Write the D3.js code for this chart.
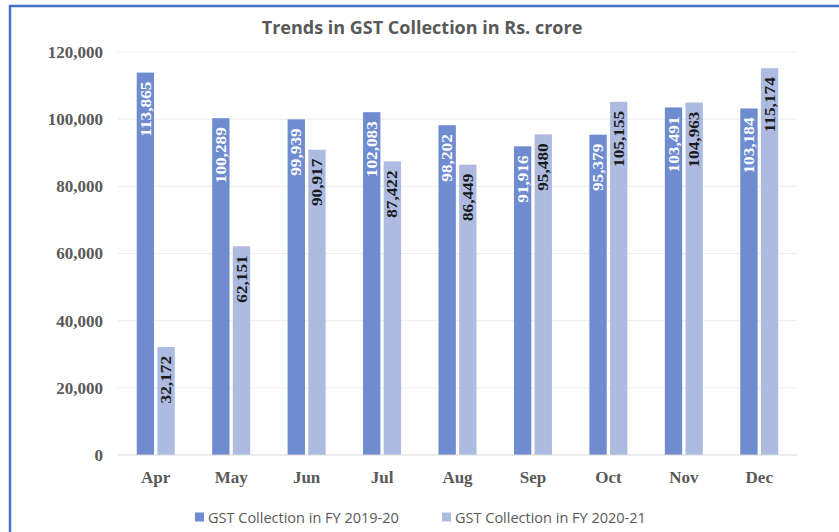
<!DOCTYPE html>
<html>
<head>
<meta charset="utf-8">
<script src="https://cdn.jsdelivr.net/npm/d3@7"></script>
<style>
  html, body { margin: 0; padding: 0; background: #fff; }
  svg { display: block; }
</style>
</head>
<body>
<svg id="chart" width="839" height="532"></svg>
<script>
// GST collection by month, Rs. crore
const months = ["Apr", "May", "Jun", "Jul", "Aug", "Sep", "Oct", "Nov", "Dec"];
const seriesNames = ["GST Collection in FY 2019-20", "GST Collection in FY 2020-21"];
const fy2019_20 = [113865, 100289, 99939, 102083, 98202, 91916, 95379, 103491, 103184];
const fy2020_21 = [32172, 62151, 90917, 87422, 86449, 95480, 105155, 104963, 115174];
const yTicks = [0, 20000, 40000, 60000, 80000, 100000, 120000];

const colors = ["#6f8cd0", "#aebbe0"];
const labelColors = ["#ffffff", "#1a1a1a"];

const svg = d3.select("#chart");
const W = 839, H = 532;

// frame
svg.append("rect")
  .attr("x", 10).attr("y", 6)
  .attr("width", W - 8).attr("height", H)
  .attr("fill", "#fff")
  .attr("stroke", "#4472c4").attr("stroke-width", 2.5);

const plot = { left: 118, right: 797, top: 52, bottom: 455 };

const x = d3.scaleBand().domain(months).range([plot.left, plot.right]).paddingInner(0).paddingOuter(0);
const inner = d3.scaleBand().domain([0, 1]).range([x.bandwidth() / 2 - 19, x.bandwidth() / 2 + 19]).paddingInner(0.16);
const y = d3.scaleLinear().domain([0, 120000]).range([plot.bottom, plot.top]);

// title
svg.append("text")
  .attr("x", 422).attr("y", 34)
  .attr("text-anchor", "middle")
  .attr("font-family", "'Open Sans', sans-serif")
  .attr("font-weight", "bold")
  .attr("font-size", 18)
  .attr("fill", "#595959")
  .text("Trends in GST Collection in Rs. crore");

// gridlines
svg.append("g")
  .selectAll("line")
  .data(yTicks.filter(d => d > 0))
  .join("line")
  .attr("x1", plot.left).attr("x2", plot.right)
  .attr("y1", d => y(d)).attr("y2", d => y(d))
  .attr("stroke", "#ececec").attr("stroke-width", 1);

// y axis labels
const yAxis = d3.axisLeft(y).tickValues(yTicks).tickSize(0).tickPadding(15)
  .tickFormat(d3.format(","));
const gy = svg.append("g").attr("transform", `translate(${plot.left},0)`).call(yAxis);
gy.select(".domain").remove();
gy.selectAll("text")
  .attr("font-family", "'Liberation Serif', 'Times New Roman', serif")
  .attr("font-weight", "bold")
  .attr("font-size", 17)
  .attr("fill", "#595959");

// bars
const data = months.map((m, i) => ({ month: m, values: [fy2019_20[i], fy2020_21[i]] }));
const groups = svg.append("g").selectAll("g")
  .data(data)
  .join("g")
  .attr("transform", d => `translate(${x(d.month)},0)`);

groups.selectAll("rect")
  .data(d => d.values.map((v, s) => ({ v, s })))
  .join("rect")
  .attr("x", d => inner(d.s))
  .attr("width", inner.bandwidth())
  .attr("y", d => y(d.v))
  .attr("height", d => y(0) - y(d.v))
  .attr("fill", d => colors[d.s]);

// value labels, rotated, inside the top of each bar
groups.selectAll("text.val")
  .data(d => d.values.map((v, s) => ({ v, s })))
  .join("text")
  .attr("class", "val")
  .attr("transform", d => `translate(${inner(d.s) + inner.bandwidth() / 2},${y(d.v) + 9}) rotate(-90) scale(1.15,1)`)
  .attr("text-anchor", "end")
  .attr("dominant-baseline", "central")
  .attr("font-family", "'Liberation Serif', 'Times New Roman', serif")
  .attr("font-weight", "bold")
  .attr("font-size", 15)
  .attr("fill", d => labelColors[d.s])
  .text(d => d3.format(",")(d.v));

// x axis baseline
svg.append("line")
  .attr("x1", plot.left).attr("x2", plot.right)
  .attr("y1", y(0)).attr("y2", y(0))
  .attr("stroke", "#d9d9d9").attr("stroke-width", 1);

// x axis labels
const xAxis = d3.axisBottom(x).tickSize(0).tickPadding(16);
const gx = svg.append("g").attr("transform", `translate(0,${plot.bottom})`).call(xAxis);
gx.select(".domain").remove();
gx.selectAll("text")
  .attr("font-family", "'Liberation Serif', 'Times New Roman', serif")
  .attr("font-weight", "bold")
  .attr("font-size", 17)
  .attr("fill", "#595959");

// legend
const legendX = [195, 442];
const legend = svg.append("g").selectAll("g")
  .data(seriesNames)
  .join("g")
  .attr("transform", (d, i) => `translate(${legendX[i]},517)`);
legend.append("rect")
  .attr("x", 0).attr("y", -4.5).attr("width", 9).attr("height", 9)
  .attr("fill", (d, i) => colors[i]);
legend.append("text")
  .attr("x", 13).attr("y", 0)
  .attr("dominant-baseline", "central")
  .attr("font-family", "'Open Sans', sans-serif")
  .attr("font-size", 14.5)
  .attr("fill", "#595959")
  .text(d => d);
</script>
</body>
</html>
